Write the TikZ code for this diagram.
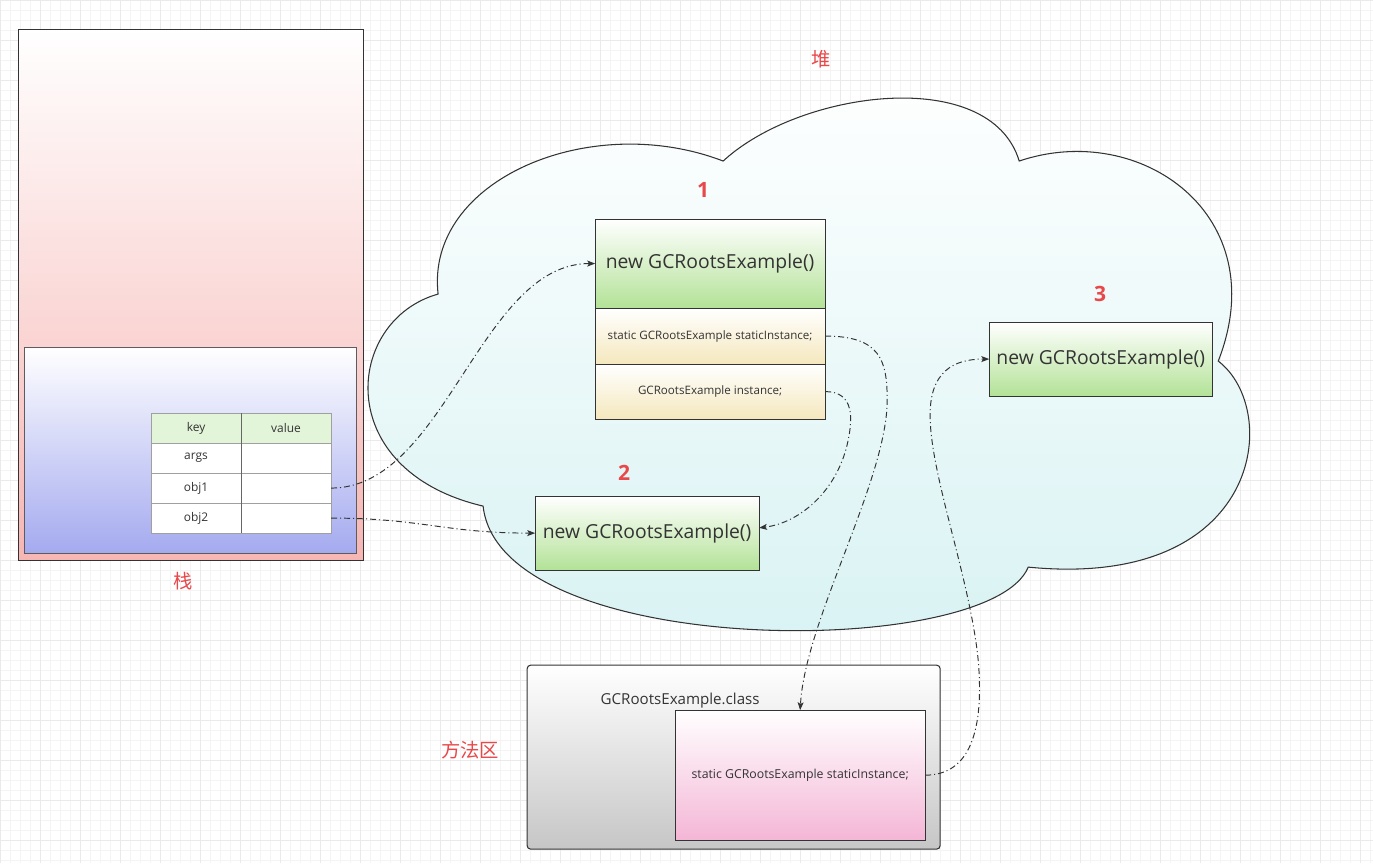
\documentclass[tikz,border=0pt]{standalone}
\usepackage{fontspec}
\setmainfont{Open Sans}
\newfontfamily\cjk{Noto Sans CJK SC}
\usepackage{tikz}
\usetikzlibrary{arrows.meta}
\usetikzlibrary{positioning}

\definecolor{boxline}{HTML}{333333}
\definecolor{cellline}{HTML}{A0A0A0}
\definecolor{txtgray}{HTML}{333333}
\definecolor{labelred}{HTML}{E8484A}
\definecolor{stackpink}{HTML}{F6B6B4}
\definecolor{framelilac}{HTML}{A4AAEF}
\definecolor{objgreen}{HTML}{B3E297}
\definecolor{fieldcream}{HTML}{F5E8BE}
\definecolor{keygreen}{HTML}{E2F5D9}
\definecolor{cloudcyan}{HTML}{D8F2F3}
\definecolor{classgray}{HTML}{C6C6C6}
\definecolor{staticpink}{HTML}{F4B6D6}
\definecolor{gridminor}{HTML}{F4F4F4}
\definecolor{gridmajor}{HTML}{EAEAEA}

\begin{document}
\begin{tikzpicture}[x=0.02cm, y=-0.02cm,
    box/.style={draw=boxline, line width=0.6pt, inner sep=0pt, outer sep=0pt, text=txtgray},
    objbox/.style={box, top color=white, bottom color=objgreen, font=\fontsize{11}{13}\selectfont},
    fieldbox/.style={box, top color=white, bottom color=fieldcream, minimum width=4.6cm, font=\fontsize{6.6}{8}\selectfont},
    cell/.style={draw=cellline, line width=0.5pt, fill=white, minimum width=1.8cm, minimum height=0.6cm,
      inner sep=0pt, outer sep=0pt, text=txtgray, font=\fontsize{6.8}{8}\selectfont},
    areatag/.style={text=labelred, font=\cjk\fontsize{11}{13}\selectfont},
    numtag/.style={text=labelred, font=\bfseries\fontsize{12}{14}\selectfont},
    ref/.style={draw=boxline, line width=0.55pt, dash pattern=on 3.4pt off 1.7pt on 0.6pt off 1.7pt,
      -{Stealth[length=4.5pt, width=3.4pt, inset=1pt]}}]

  % canvas
  \useasboundingbox (0cm,0cm) rectangle (27.46cm,-17.26cm);
  \fill[white] (0cm,0cm) rectangle (27.46cm,-17.26cm);
  \draw[gridminor, line width=0.4pt, step=0.2cm] (0cm,-17.26cm) grid (27.46cm,0cm);
  \draw[gridmajor, line width=0.4pt, step=0.8cm] (0cm,-17.26cm) grid (27.46cm,0cm);

  % stack
  \node[box, top color=white, bottom color=stackpink, minimum width=6.9cm, minimum height=10.62cm]
    (stack) at (190.5,294.5) {};
  \node[box, draw=boxline!80, top color=white, bottom color=framelilac, minimum width=6.64cm, minimum height=4.12cm]
    (frame) at (190,450) {};
  \node[areatag] (stacktag) at (183,581) {栈};

  % local variable table
  \node[cell, fill=keygreen] (keyh) at (196,428) {key};
  \node[cell, fill=keygreen, right=0pt of keyh] (valh) {value};
  \node[cell, below=0pt of keyh] (args) {args};
  \node[cell, right=0pt of args] (argsv) {};
  \node[cell, below=0pt of args] (obj1) {obj1};
  \node[cell, right=0pt of obj1] (obj1v) {};
  \node[cell, below=0pt of obj1] (obj2) {obj2};
  \node[cell, right=0pt of obj2] (obj2v) {};
  \draw[boxline!75, line width=0.5pt] (valh.north west) -- (obj2v.south west);

  % heap
  \node[areatag] (heaptag) at (821,59) {堆};
  \draw[boxline, line width=0.6pt, top color=white, bottom color=cloudcyan]
    (438,294) .. controls (425,180) and (590,110) .. (723,161)
    .. controls (800,90) and (990,65) .. (1019,161)
    .. controls (1140,120) and (1275,215) .. (1218,361)
    .. controls (1282,410) and (1262,590) .. (1028,567)
    .. controls (990,660) and (500,660) .. (483,506)
    .. controls (330,470) and (345,320) .. cycle;

  % objects
  \node[objbox, minimum width=4.6cm, minimum height=1.78cm] (objA) at (710,263.5) {new GCRootsExample()};
  \node[fieldbox, minimum height=1.12cm, below=0pt of objA] (fieldA) {static GCRootsExample staticInstance;};
  \node[fieldbox, minimum height=1.1cm, below=0pt of fieldA] (fieldB) {GCRootsExample instance;};
  \node[numtag] (numA) at (703,190) {1};

  \node[objbox, minimum width=4.48cm, minimum height=1.48cm] (objB) at (647,533) {new GCRootsExample()};
  \node[numtag] (numB) at (624,473) {2};

  \node[objbox, minimum width=4.46cm, minimum height=1.48cm] (objC) at (1100.5,359) {new GCRootsExample()};
  \node[numtag] (numC) at (1100,294) {3};

  % method area
  \node[box, rounded corners=2pt, top color=white, bottom color=classgray, minimum width=8.26cm, minimum height=3.68cm]
    (method) at (733.5,757) {};
  \node[text=txtgray, font=\fontsize{8.6}{10}\selectfont] (classname) at (680,700) {GCRootsExample.class};
  \node[box, top color=white, bottom color=staticpink, minimum width=5cm, minimum height=2.6cm,
    font=\fontsize{7}{8}\selectfont] (static) at (800,775) {static GCRootsExample staticInstance;};
  \node[areatag] (methodtag) at (470,750) {方法区};

  % bends
  \coordinate (sbend) at (887,400);
  \coordinate (ibend) at (848,440);
  \coordinate (cbend1) at (978,660);
  \coordinate (cbend2) at (930,420);

  % references
  \draw[ref] (obj1v.east) .. controls +(114,0) and +(-115,0) .. (objA.west);
  \draw[ref] (obj2v.east) .. controls +(90,0) and +(-90,0) .. (objB.west);
  \draw[ref] (fieldA.east) .. controls +(55,0) and +(0,-40) .. (sbend)
    .. controls +(0,80) and +(5,-90) .. (static.north);
  \draw[ref] (fieldB.east) .. controls +(30,0) and +(4,-20) .. (ibend)
    .. controls +(-10,50) and +(41,-5) .. ([yshift=3pt]objB.east);
  \draw[ref] (static.east) .. controls +(45,0) and +(6,70) .. (cbend1)
    .. controls +(-8,-80) and +(2,60) .. (cbend2)
    .. controls +(-2,-50) and +(-34,0) .. (objC.west);
\end{tikzpicture}
\end{document}
